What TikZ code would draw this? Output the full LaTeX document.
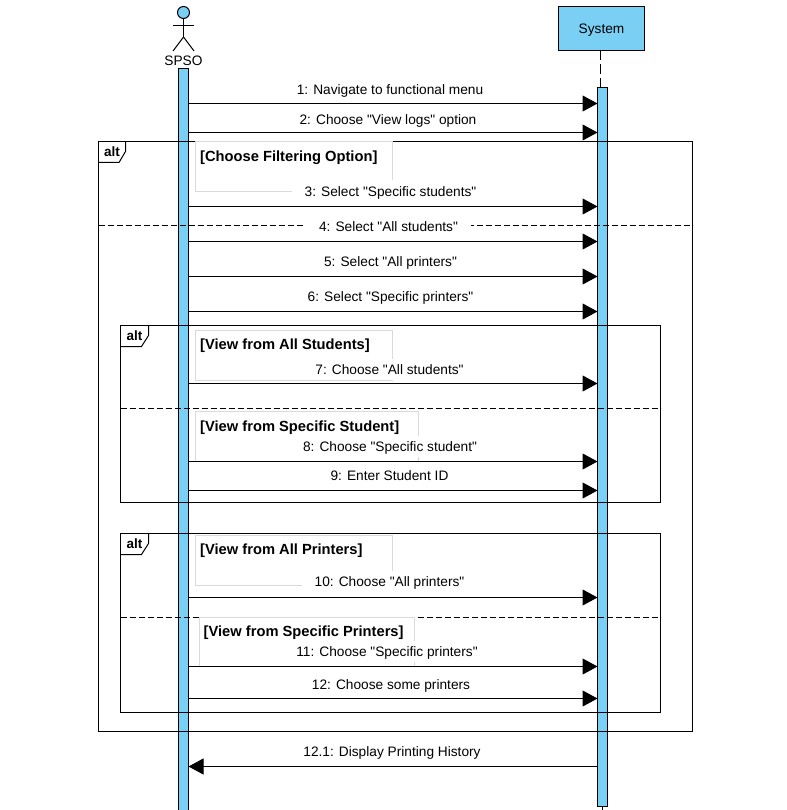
\documentclass[tikz,border=0pt]{standalone}
\usepackage{fontspec}
\setmainfont{Liberation Sans}[Ligatures=TeXOff]
\usetikzlibrary{arrows.meta}
\definecolor{lifeblue}{HTML}{7ACFF5}
\definecolor{guardgray}{HTML}{DADADA}
\tikzset{
  bar/.style={draw=black, fill=lifeblue, line width=1pt, minimum width=10pt, inner sep=0pt, outer sep=0pt, anchor=north},
  msg/.style={line width=1pt, -{Triangle[length=15pt,width=16pt]}},
  msglabel/.style={fill=white, inner xsep=13pt, inner ysep=0pt, text height=12pt, text depth=1pt, minimum height=21pt, font=\fontsize{13.7}{15}\selectfont},
  frame/.style={draw=black, line width=1pt, inner sep=0pt, outer sep=0pt},
  divider/.style={line width=1pt, dash pattern=on 6pt off 3pt},
  guard/.style={draw=guardgray, line width=1pt},
  guardlabel/.style={anchor=west, inner sep=0pt, yshift=-2pt, font=\fontsize{14.7}{15}\selectfont\bfseries},
  altlabel/.style={inner sep=0pt, font=\fontsize{13.5}{15}\selectfont\bfseries}
}
\begin{document}
\begin{tikzpicture}[x=1pt, y=-1pt]
\useasboundingbox (0,0) rectangle (786,810);

\node[circle, draw=black, fill=lifeblue, line width=1pt, minimum size=12pt, inner sep=0pt] (head) at (183.5,12.5) {};
\coordinate (hip) at (183.5,37);
\coordinate (armleft) at (173,26);
\coordinate (armright) at (194,26);
\coordinate (footleft) at (173,51);
\coordinate (footright) at (194,51);
\draw[line width=1pt] (head) -- (hip);
\draw[line width=1pt] (armleft) -- (armright);
\draw[line width=1pt] (footleft) -- (hip) -- (footright);
\node[inner sep=0pt, yshift=-1pt, font=\fontsize{13.7}{15}\selectfont] (spso) at (183.5,60) {SPSO};

\node[bar, minimum height=745pt] (spsobar) at (183.5,68.5) {};
\node[draw=black, fill=lifeblue, line width=1pt, minimum width=86pt, minimum height=44pt, inner sep=0pt, outer sep=0pt, text height=12pt, text depth=1pt, font=\fontsize{13.7}{15}\selectfont] (system) at (601.5,28.5) {System};
\coordinate (sysend) at (602.5,810);
\node[bar, minimum height=719pt] (sysbar) at (602.5,87.5) {};
\draw[line width=1pt, dash pattern=on 10pt off 4pt] (system.south -| 600.5,0) -- (sysbar.north -| 600.5,0);
\draw[line width=1pt] (sysbar.south) -- (sysend);

\node[frame, minimum width=594pt, minimum height=590pt, anchor=north west] (outer) at (98.5,141.5) {};
\draw[frame] (outer.north west) ++(27,0) -- ++(0,10) -- ++(-6.5,11) -- ++(-20.5,0);
\node[altlabel] (outeralt) at (112,152) {alt};
\coordinate (outerdiv) at (0,225.5);
\draw[divider] (outer.west |- outerdiv) -- (outer.east |- outerdiv);

\node[frame, minimum width=540pt, minimum height=177pt, anchor=north west] (studentsalt) at (120.5,325.5) {};
\draw[frame] (studentsalt.north west) ++(28,0) -- ++(0,10) -- ++(-7,11) -- ++(-21,0);
\node[altlabel] (studentslabel) at (134.5,336) {alt};
\coordinate (studentsdiv) at (0,408.5);
\draw[divider] (studentsalt.west |- studentsdiv) -- (studentsalt.east |- studentsdiv);

\node[frame, minimum width=540pt, minimum height=179pt, anchor=north west] (printersalt) at (120.5,533.5) {};
\draw[frame] (printersalt.north west) ++(28,0) -- ++(0,10) -- ++(-7,11) -- ++(-21,0);
\node[altlabel] (printerslabel) at (134.5,544) {alt};
\coordinate (printersdiv) at (0,617.5);
\draw[divider] (printersalt.west |- printersdiv) -- (printersalt.east |- printersdiv);

\draw[guard] (195.5,141.5) rectangle (392.5,191.5);
\draw[guard] (195.5,330.5) rectangle (392.5,380.5);
\draw[guard] (195.5,411.5) rectangle (418.5,461);
\draw[guard] (195.5,535.5) rectangle (392.5,585.5);
\draw[guard] (199.5,617.5) rectangle (414.5,666);

\node[guardlabel] (filtering) at (200,155.5) {[Choose Filtering Option]};
\node[guardlabel] (allstudents) at (200,343.5) {[View from All Students]};
\node[guardlabel] (onestudent) at (200,425.5) {[View from Specific Student]};
\node[guardlabel] (allprinters) at (200,548.5) {[View from All Printers]};
\node[guardlabel] (someprinters) at (203.5,630.5) {[View from Specific Printers]};

\coordinate (m1) at (0,103.5);
\coordinate (m2) at (0,132.5);
\coordinate (m3) at (0,206.5);
\coordinate (m4) at (0,241.5);
\coordinate (m5) at (0,276.5);
\coordinate (m6) at (0,311.5);
\coordinate (m7) at (0,383.5);
\coordinate (m8) at (0,461.5);
\coordinate (m9) at (0,490.5);
\coordinate (m10) at (0,597.5);
\coordinate (m11) at (0,666.5);
\coordinate (m12) at (0,698.5);
\coordinate (m13) at (0,766.5);

\node[msglabel] (lab1) at (390,89) {1: Navigate to functional menu};
\node[msglabel] (lab2) at (388,119) {2: Choose "View logs" option};
\node[msglabel] (lab3) at (390.5,191) {3: Select "Specific students"};
\node[msglabel] (lab4) at (388.5,226) {4: Select "All students"};
\node[msglabel] (lab5) at (390.5,261) {5: Select "All printers"};
\node[msglabel] (lab6) at (390.5,296) {6: Select "Specific printers"};
\node[msglabel] (lab7) at (389.5,369) {7: Choose "All students"};
\node[msglabel] (lab8) at (390,446) {8: Choose "Specific student"};
\node[msglabel] (lab9) at (389.5,475) {9: Enter Student ID};
\node[msglabel] (lab10) at (389.5,581) {10: Choose "All printers"};
\node[msglabel] (lab11) at (387,651) {11: Choose "Specific printers"};
\node[msglabel] (lab12) at (391,684) {12: Choose some printers};
\node[msglabel] (lab13) at (392,751) {12.1: Display Printing History};

\draw[msg] (spsobar.east |- m1) -- (sysbar.west |- m1);
\draw[msg] (spsobar.east |- m2) -- (sysbar.west |- m2);
\draw[msg] (spsobar.east |- m3) -- (sysbar.west |- m3);
\draw[msg] (spsobar.east |- m4) -- (sysbar.west |- m4);
\draw[msg] (spsobar.east |- m5) -- (sysbar.west |- m5);
\draw[msg] (spsobar.east |- m6) -- (sysbar.west |- m6);
\draw[msg] (spsobar.east |- m7) -- (sysbar.west |- m7);
\draw[msg] (spsobar.east |- m8) -- (sysbar.west |- m8);
\draw[msg] (spsobar.east |- m9) -- (sysbar.west |- m9);
\draw[msg] (spsobar.east |- m10) -- (sysbar.west |- m10);
\draw[msg] (spsobar.east |- m11) -- (sysbar.west |- m11);
\draw[msg] (spsobar.east |- m12) -- (sysbar.west |- m12);
\draw[msg] (sysbar.west |- m13) -- (spsobar.east |- m13);
\end{tikzpicture}
\end{document}
